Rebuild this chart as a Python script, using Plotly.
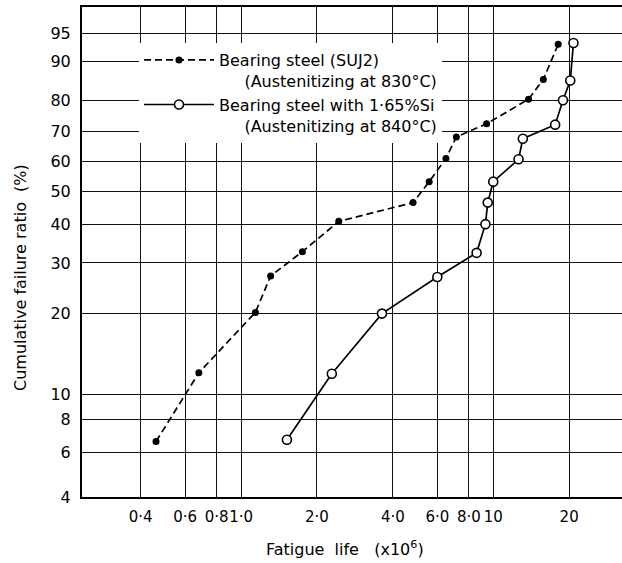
import numpy as np
import plotly.graph_objects as go

# ---- data ----
life_suj2 = [0.46, 0.68, 1.14, 1.31, 1.75, 2.44, 4.81, 5.57, 6.49, 7.14, 9.41, 13.8, 15.8, 18.1]
ratio_suj2 = [6.6, 12.1, 20.2, 27.1, 32.7, 40.8, 46.4, 53.1, 60.9, 68.2, 72.6, 80.3, 85.8, 93.3]

life_si = [1.52, 2.29, 3.62, 6.0, 8.59, 9.31, 9.51, 10.0, 12.6, 13.1, 17.6, 18.9, 20.2, 20.8]
ratio_si = [6.7, 12.0, 20.0, 26.9, 32.4, 40.0, 46.4, 53.1, 60.6, 67.6, 72.3, 80.0, 85.5, 93.5]

x_tick_vals = [0.4, 0.6, 0.8, 1.0, 2.0, 4.0, 6.0, 8.0, 10, 20]
x_tick_text = ["0·4", "0·6", "0·8", "1·0", "2·0", "4·0", "6·0", "8·0", "10", "20"]
y_tick_pct = [4, 6, 8, 10, 20, 30, 40, 50, 60, 70, 80, 90, 95]

x_limits = [0.234, 32.4]
y_limits_pct = [4, 97.8]

NB = "\u00a0"
name_suj2 = "Bearing steel (SUJ2)<br>" + NB * 5 + "(Austenitizing at 830°C)"
name_si = "Bearing steel with 1·65%Si<br>" + NB * 5 + "(Austenitizing at 840°C)"
y_title = "Cumulative failure ratio" + NB * 2 + "(%)"
x_title = "Fatigue" + NB * 2 + "life" + NB * 3 + "(x10<sup>6</sup>)"


def weibull(p):
    p = np.asarray(p, dtype=float) / 100.0
    return np.log(-np.log(1.0 - p))


FONT = "DejaVu Sans"

fig = go.Figure()
fig.add_trace(go.Scatter(
    x=life_suj2, y=weibull(ratio_suj2), mode="lines+markers", name=name_suj2,
    line=dict(color="black", width=1.7, dash="7px,4px"),
    marker=dict(symbol="circle", size=7, color="black"),
))
fig.add_trace(go.Scatter(
    x=life_si, y=weibull(ratio_si), mode="lines+markers", name=name_si,
    line=dict(color="black", width=1.7),
    marker=dict(symbol="circle", size=9, color="white",
                line=dict(color="black", width=1.6)),
))

fig.update_layout(
    width=622, height=563,
    margin=dict(l=82, r=0, t=7, b=66),
    paper_bgcolor="white", plot_bgcolor="white",
    font=dict(family=FONT, size=16, color="black"),
    showlegend=True,
    legend=dict(
        x=(139 - 82) / 540, y=(497 - 43) / 490, xanchor="left", yanchor="top",
        bgcolor="white", borderwidth=0, itemwidth=70, valign="top",
        font=dict(family=FONT, size=16, color="black"),
        tracegroupgap=0,
    ),
    xaxis=dict(
        type="log", range=[np.log10(x_limits[0]), np.log10(x_limits[1])],
        tickmode="array", tickvals=x_tick_vals, ticktext=x_tick_text,
        showgrid=True, gridcolor="#111", gridwidth=1.2,
        showline=True, linecolor="black", linewidth=2, mirror=True,
        ticks="", ticklabelstandoff=5, zeroline=False, tickangle=0,
        automargin=False,
        tickfont=dict(family=FONT, size=15),
    ),
    yaxis=dict(
        range=[float(weibull(y_limits_pct[0])), float(weibull(y_limits_pct[1]))],
        tickmode="array", tickvals=weibull(y_tick_pct).tolist(),
        ticktext=[str(v) for v in y_tick_pct],
        showgrid=True, gridcolor="#111", gridwidth=1.2,
        showline=True, linecolor="black", linewidth=2, mirror=False,
        ticks="", ticklabelstandoff=6, zeroline=False, automargin=False,
        tickfont=dict(family=FONT, size=16),
    ),
    annotations=[
        dict(text=y_title, textangle=-90,
             xref="paper", yref="paper", x=(20 - 82) / 540, y=(497 - 278) / 490,
             xanchor="center", yanchor="middle",
             showarrow=False, font=dict(family=FONT, size=16)),
        dict(text=x_title,
             xref="paper", yref="paper", x=(345 - 82) / 540, y=(497 - 548) / 490,
             xanchor="center", yanchor="middle",
             showarrow=False, font=dict(family=FONT, size=16)),
    ],
)

fig.write_html("out.html", config={"displayModeBar": False},
               post_script="document.body.style.margin='0';")
